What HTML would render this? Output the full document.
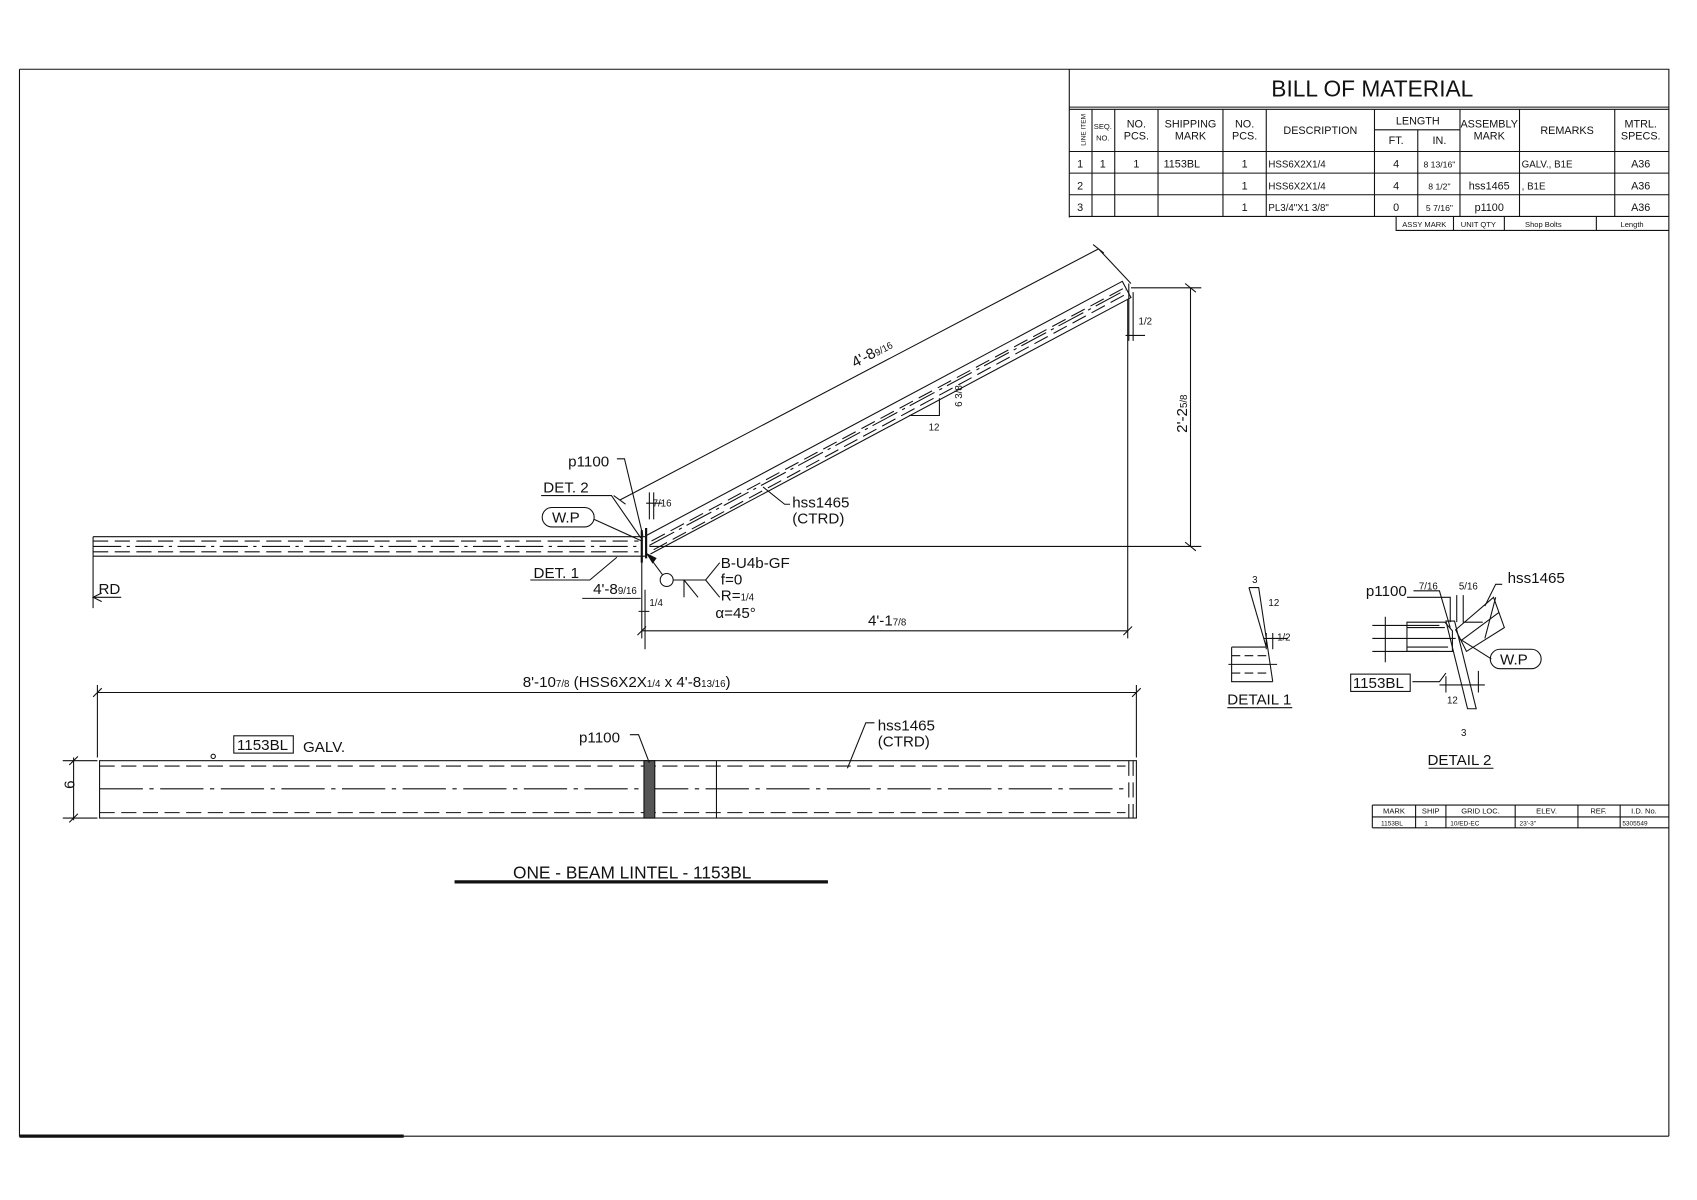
<!DOCTYPE html>
<html><head><meta charset="utf-8"><style>
html,body{margin:0;padding:0;background:#fff;}
svg{display:block;}
text{font-family:"Liberation Sans",sans-serif;fill:#111;}
</style></head><body>
<svg width="1697" height="1200" viewBox="0 0 1568 1109" preserveAspectRatio="none" xmlns="http://www.w3.org/2000/svg">
<g stroke="#111" fill="none" stroke-width="1">
<!-- frame -->
<path d="M18 64 H1542 V1050 M18 64 V1050 H1542"/>
<path d="M18 1050 H373" stroke-width="3"/>
<!-- BOM -->
<path d="M988 64 V201 M988 99 H1542 M988 101 H1542 M988 140 H1542 M988 160 H1542 M988 180 H1542 M988 200 H1542"/>
<path d="M1009 101 V200 M1030 101 V200 M1070 101 V200 M1130 101 V200 M1170 101 V200 M1270 101 V200 M1349 101 V200 M1404 101 V200 M1492 101 V200 M1270 120 H1349 M1310 120 V200"/>
<path d="M1290 200 V213 H1542 M1343 200 V213 M1390 200 V213 M1475 200 V213" />
<!-- left beam -->
<path d="M86 496 H596 M86 514 H596 M86 496 V562"/>
<path d="M86 500 H590 M86 510 H590" stroke-dasharray="14 6"/>
<path d="M86 505 H590" stroke-dasharray="26 5 3 5"/>
<path d="M112 552 H86 M94 548 L86 552 L94 556"/>
<!-- sloped member -->
<path d="M597 495 L1037 260 L1045 275 L601 512"/>
<path d="M602 500 L1039 266 M604 508 L1042 271" stroke-dasharray="14 6"/>
<path d="M600 504 L1040 268" stroke-dasharray="26 5 3 5"/>
<path d="M593 490 V520 M597 488 V516" stroke-width="2"/>
<!-- slope dim -->
<path d="M573 462 L1015 230 M1015 230 L1045 262 M567 458 L578 466 M1010 226 L1020 234"/>
<path d="M840 384 H868 V368"/>
<!-- right dims -->
<path d="M1045 266 H1110 M600 505 H1110 M1100 266 V505 M1095 262 L1105 270 M1095 501 L1105 509"/>
<path d="M1043 262 V315 M1047 270 V315 M1040 310 H1058"/>
<path d="M593 515 V590 M1042 277 V590 M593 583 H1042 M589 587 L597 579 M1038 587 L1046 579"/>
<!-- leaders -->
<path d="M705 450 L725 466 H730"/>
<path d="M538 553 H592 M596 545 V600 M590 565 H600"/>
<path d="M490 536 H545 L570 515"/>
<path d="M500 458 H565 L592 497"/>
<rect x="501" y="469" width="48" height="18" rx="9"/>
<path d="M549 480 L593 500"/>
<path d="M570 424 H577 L594 495"/>
<path d="M597 465 H612 M600 455 V480 M604 455 V480"/>
<!-- weld symbol -->
<circle cx="616" cy="536" r="6"/>
<path d="M622 536 H652 L665 520 M652 536 L665 552 M632 536 V552 M632 536 L645 552 M612 531 L598 512"/>
<path d="M598 512 L606 516 L603 520 Z" fill="#111"/>
<!-- bottom elevation -->
<path d="M90 640 H1050 M90 633 V700 M1050 633 V700 M86 644 L94 636 M1046 644 L1054 636"/>
<rect x="92" y="703" width="958" height="53"/>
<path d="M92 708 H1040 M92 751 H1040 M1043 703 V756 M1047 703 V756" stroke-dasharray="14 6"/>
<path d="M92 729 H1040" stroke-dasharray="40 6 4 6"/>
<rect x="595" y="703" width="10" height="53" fill="#555"/>
<path d="M662 703 V756"/>
<path d="M68 700 V758 M58 703 H90 M58 756 H90 M64 707 L72 699 M64 760 L72 752"/>
<rect x="216" y="680" width="55" height="16"/>
<circle cx="197" cy="699" r="2"/>
<path d="M582 679 H590 L600 705 M808 668 H800 L783 710"/>
<path d="M420 815 H765" stroke-width="3"/>
<!-- detail 1 -->
<path d="M1154 543 H1163 L1176 630 M1154 543 L1170 598 M1138 598 H1170 M1138 598 V630 H1176 M1135 614 H1180 M1168 590 H1190 M1170 585 V600 M1176 585 V600"/>
<path d="M1138 606 H1170 M1138 622 H1172" stroke-dasharray="8 4"/>
<path d="M1134 654 H1194"/>
<!-- detail 2 -->
<path d="M1300 575 H1335 L1342 583 V602 H1300 Z M1300 580 H1335 M1300 598 H1338" stroke-dasharray="none"/>
<path d="M1336 574 L1356 655 H1364 L1344 574 Z"/>
<path d="M1345 582 L1380 552 L1390 580 L1355 602 Z M1350 592 L1385 566" />
<path d="M1268 578 H1330 M1268 590 H1345 M1268 602 H1330 M1280 570 V612 M1300 552 H1340 V575 M1346 550 V575 M1352 550 V575 H1370 M1306 546 H1330 L1340 580 M1336 622 L1330 630 H1305 M1348 590 L1378 609 M1330 633 H1372 M1336 625 V640 M1366 620 V640 M1382 552 L1372 590 M1388 540 H1382 L1372 560"/>
<rect x="1248" y="623" width="55" height="16"/>
<rect x="1377" y="600" width="47" height="18" rx="9"/>
<path d="M1320 710 H1380"/>
<!-- small table -->
<path d="M1268 744 H1542 M1268 755 H1542 M1268 765 H1542 M1268 744 V765 M1308 744 V765 M1336 744 V765 M1400 744 V765 M1458 744 V765 M1497 744 V765"/>
</g>
<!-- text -->
<text x="1268" y="89" font-size="21" text-anchor="middle">BILL OF MATERIAL</text>
<g font-size="10" text-anchor="middle">
<text x="1019" y="119" font-size="7">SEQ.</text><text x="1019" y="130" font-size="7">NO.</text>
<text x="998" y="125" font-size="6" transform="rotate(-90 998 120)">LINE ITEM</text>
<text x="1050" y="118">NO.</text><text x="1050" y="129">PCS.</text>
<text x="1100" y="118">SHIPPING</text><text x="1100" y="129">MARK</text>
<text x="1150" y="118">NO.</text><text x="1150" y="129">PCS.</text>
<text x="1220" y="124">DESCRIPTION</text>
<text x="1310" y="115">LENGTH</text>
<text x="1290" y="133">FT.</text><text x="1330" y="133">IN.</text>
<text x="1376" y="118">ASSEMBLY</text><text x="1376" y="129">MARK</text>
<text x="1448" y="124">REMARKS</text>
<text x="1516" y="118">MTRL.</text><text x="1516" y="129">SPECS.</text>
<text x="998" y="155">1</text><text x="1019" y="155">1</text><text x="1050" y="155">1</text><text x="1092" y="155">1153BL</text><text x="1150" y="155">1</text>
<text x="1290" y="155">4</text><text x="1330" y="155" font-size="8">8 13/16"</text><text x="1516" y="155">A36</text>
<text x="998" y="175">2</text><text x="1150" y="175">1</text><text x="1290" y="175">4</text><text x="1330" y="175" font-size="8">8 1/2"</text><text x="1376" y="175">hss1465</text><text x="1516" y="175">A36</text>
<text x="998" y="195">3</text><text x="1150" y="195">1</text><text x="1290" y="195">0</text><text x="1330" y="195" font-size="8">5 7/16"</text><text x="1376" y="195">p1100</text><text x="1516" y="195">A36</text>
</g>
<g font-size="9">
<text x="1172" y="155">HSS6X2X1/4</text><text x="1406" y="155">GALV., B1E</text>
<text x="1172" y="175">HSS6X2X1/4</text><text x="1406" y="175">, B1E</text>
<text x="1172" y="195">PL3/4"X1 3/8"</text>
</g>
<g font-size="7" text-anchor="middle">
<text x="1316" y="210">ASSY MARK</text><text x="1366" y="210">UNIT QTY</text><text x="1426" y="210">Shop Bolts</text><text x="1508" y="210">Length</text>
<text x="1288" y="752">MARK</text><text x="1322" y="752">SHIP</text><text x="1368" y="752">GRID LOC.</text><text x="1429" y="752">ELEV.</text><text x="1477" y="752">REF.</text><text x="1519" y="752">I.D. No.</text>
</g>
<g font-size="6"><text x="1276" y="763">1153BL</text><text x="1316" y="763">1</text><text x="1340" y="763">10/ED-EC</text><text x="1404" y="763">23'-3"</text><text x="1499" y="763">5305549</text></g>
<g font-size="14">
<text x="790" y="340" transform="rotate(-28 790 340)">4'-8<tspan font-size="9">9/16</tspan></text>
<text x="1097" y="400" transform="rotate(-90 1097 400)">2'-2<tspan font-size="9">5/8</tspan></text>
<text x="802" y="578">4'-1<tspan font-size="9">7/8</tspan></text>
<text x="732" y="469">hss1465</text><text x="732" y="484">(CTRD)</text>
<text x="525" y="431">p1100</text>
<text x="502" y="455">DET. 2</text>
<text x="510" y="483">W.P</text>
<text x="493" y="534">DET. 1</text>
<text x="548" y="549">4'-8<tspan font-size="9">9/16</tspan></text>
<text x="666" y="525">B-U4b-GF</text><text x="666" y="540">f=0</text><text x="666" y="555">R=<tspan font-size="9">1/4</tspan></text><text x="661" y="571">α=45°</text>
<text x="91" y="549">RD</text>
<text x="483" y="635">8'-10<tspan font-size="9">7/8</tspan> (HSS6X2X<tspan font-size="9">1/4</tspan> x 4'-8<tspan font-size="9">13/16</tspan>)</text>
<text x="219" y="693">1153BL</text><text x="280" y="695">GALV.</text>
<text x="535" y="686">p1100</text>
<text x="811" y="675">hss1465</text><text x="811" y="690">(CTRD)</text>
<text x="64" y="734" transform="rotate(-90 64 729)">6</text>
<text x="474" y="812" font-size="16">ONE - BEAM LINTEL - 1153BL</text>
<text x="1134" y="651">DETAIL 1</text>
<text x="1319" y="707">DETAIL 2</text>
<text x="1262" y="551">p1100</text>
<text x="1393" y="539">hss1465</text>
<text x="1250" y="636">1153BL</text>
<text x="1386" y="614">W.P</text>
</g>
<g font-size="9">
<text x="858" y="398">12</text><text x="883" y="382" transform="rotate(-90 883 376)">6 3/8</text>
<text x="1052" y="300">1/2</text><text x="603" y="468">7/16</text><text x="600" y="560">1/4</text>
<text x="1157" y="539">3</text><text x="1180" y="592">1/2</text><text x="1172" y="560">12</text>
<text x="1311" y="545">7/16</text><text x="1348" y="545">5/16</text><text x="1350" y="680">3</text><text x="1337" y="650">12</text>
</g>
</svg>
</body></html>
